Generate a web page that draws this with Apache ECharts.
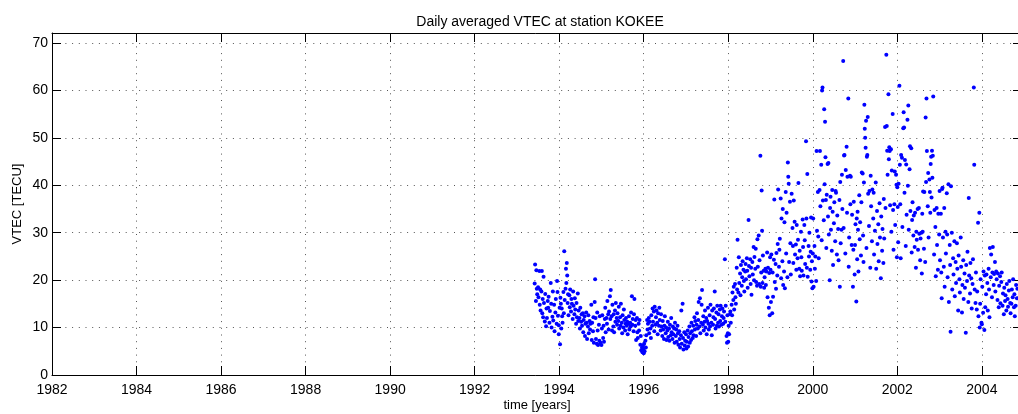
<!DOCTYPE html>
<html>
<head>
<meta charset="utf-8">
<title>Daily averaged VTEC at station KOKEE</title>
<script src="https://cdn.jsdelivr.net/npm/echarts@6/dist/echarts.min.js"></script>
<style>
  html, body { margin: 0; padding: 0; background: #fff; }
  #chart { width: 1018px; height: 414px; }
</style>
</head>
<body>
<div id="chart"></div>
<script>
// Daily averaged VTEC [TECU] at KOKEE, as [decimal year, value], grouped by year
const d1993 = [[1993.42,19.3],[1993.43,23.3],[1993.45,15.6],[1993.46,22.1],[1993.47,18.2],[1993.48,17.0],[1993.50,18.5],[1993.51,16.4],[1993.53,21.9],[1993.54,14.8],[1993.55,18.0],[1993.56,13.6],[1993.58,17.6],[1993.59,21.9],[1993.60,13.0],[1993.61,16.0],[1993.62,12.2],[1993.63,20.7],[1993.64,15.2],[1993.66,11.3],[1993.67,17.1],[1993.69,10.3],[1993.70,14.0],[1993.71,12.0],[1993.73,15.6],[1993.74,14.2],[1993.75,16.5],[1993.77,11.0],[1993.78,13.5],[1993.80,19.4],[1993.81,15.0],[1993.82,10.0],[1993.84,12.3],[1993.85,17.6],[1993.86,11.5],[1993.88,14.8],[1993.89,9.2],[1993.91,13.2],[1993.92,16.0],[1993.94,10.8],[1993.95,19.8],[1993.96,17.5],[1993.97,12.5],[1993.99,8.6],[1993.99,10.5]];
const d1994 = [[1994.01,14.2],[1994.02,6.5],[1994.03,16.3],[1994.04,15.0],[1994.05,9.8],[1994.06,14.0],[1994.07,12.4],[1994.08,11.0],[1994.10,17.5],[1994.11,13.0],[1994.12,26.1],[1994.13,15.8],[1994.15,18.2],[1994.16,22.4],[1994.17,19.4],[1994.18,23.6],[1994.19,21.0],[1994.20,15.2],[1994.21,17.0],[1994.22,12.6],[1994.24,16.8],[1994.25,14.3],[1994.26,18.0],[1994.28,13.4],[1994.29,16.0],[1994.30,15.0],[1994.32,11.8],[1994.33,17.6],[1994.34,14.6],[1994.36,12.8],[1994.37,16.2],[1994.38,13.8],[1994.40,10.8],[1994.41,15.2],[1994.42,12.2],[1994.44,17.2],[1994.45,11.4],[1994.46,13.6],[1994.48,12.0],[1994.49,9.8],[1994.50,14.2],[1994.52,11.2],[1994.53,12.8],[1994.54,10.4],[1994.56,13.0],[1994.57,9.0],[1994.58,11.6],[1994.60,12.4],[1994.61,8.2],[1994.62,10.8],[1994.64,13.2],[1994.65,11.0],[1994.66,7.6],[1994.68,10.2],[1994.69,12.6],[1994.70,8.8],[1994.72,11.4],[1994.73,9.6],[1994.74,10.8],[1994.76,14.8],[1994.77,7.4],[1994.78,11.0],[1994.80,9.2],[1994.81,12.2],[1994.82,6.8],[1994.84,15.4],[1994.85,20.2],[1994.86,12.0],[1994.87,7.6],[1994.89,6.6],[1994.90,13.2],[1994.91,9.4],[1994.92,6.3],[1994.94,10.6],[1994.95,7.2],[1994.96,12.4],[1994.98,6.8]];
const d1995 = [[1995.00,6.3],[1995.01,9.8],[1995.02,12.6],[1995.04,7.8],[1995.05,10.4],[1995.06,7.0],[1995.08,11.8],[1995.09,14.2],[1995.10,9.0],[1995.12,12.0],[1995.13,10.8],[1995.14,15.6],[1995.16,12.8],[1995.17,9.6],[1995.18,13.4],[1995.20,16.6],[1995.21,11.8],[1995.22,17.9],[1995.24,12.4],[1995.25,9.4],[1995.26,14.8],[1995.28,10.2],[1995.29,12.8],[1995.30,9.0],[1995.32,13.6],[1995.33,11.2],[1995.34,15.2],[1995.36,12.0],[1995.37,10.6],[1995.38,13.0],[1995.40,11.4],[1995.41,14.4],[1995.42,9.8],[1995.44,12.2],[1995.45,10.4],[1995.46,15.0],[1995.48,11.0],[1995.49,8.8],[1995.50,12.6],[1995.52,10.0],[1995.53,13.8],[1995.54,11.6],[1995.56,9.4],[1995.57,10.8],[1995.58,12.0],[1995.60,10.4],[1995.61,11.2],[1995.62,8.6],[1995.64,10.8],[1995.65,12.4],[1995.66,9.6],[1995.68,11.0],[1995.69,10.2],[1995.70,13.2],[1995.72,16.6],[1995.73,10.6],[1995.74,11.8],[1995.76,9.2],[1995.77,12.8],[1995.78,16.0],[1995.80,10.4],[1995.81,11.6],[1995.82,7.4],[1995.84,12.0],[1995.85,9.0],[1995.86,7.8],[1995.88,10.8],[1995.89,9.4],[1995.90,11.6],[1995.92,6.4],[1995.93,8.2],[1995.94,5.2],[1995.96,5.8],[1995.97,4.8],[1995.98,6.2],[1995.99,5.4]];
const d1996 = [[1996.00,4.6],[1996.01,6.6],[1996.02,5.0],[1996.04,7.2],[1996.05,5.8],[1996.06,8.4],[1996.08,11.6],[1996.09,9.6],[1996.10,10.8],[1996.12,12.0],[1996.13,8.8],[1996.14,11.2],[1996.16,9.8],[1996.17,7.8],[1996.18,12.6],[1996.20,10.4],[1996.21,14.0],[1996.22,11.2],[1996.24,13.4],[1996.25,9.2],[1996.26,14.4],[1996.28,10.6],[1996.29,12.2],[1996.30,13.6],[1996.32,11.0],[1996.33,8.6],[1996.34,13.0],[1996.36,10.4],[1996.37,14.2],[1996.38,11.6],[1996.40,9.4],[1996.41,12.8],[1996.42,10.2],[1996.44,8.2],[1996.45,11.4],[1996.46,9.6],[1996.48,7.6],[1996.49,10.4],[1996.50,12.4],[1996.52,8.8],[1996.53,10.0],[1996.54,7.4],[1996.56,9.4],[1996.57,11.2],[1996.58,8.0],[1996.60,9.8],[1996.61,7.2],[1996.62,10.6],[1996.64,8.4],[1996.65,12.0],[1996.66,9.0],[1996.68,7.6],[1996.69,10.2],[1996.70,8.6],[1996.72,9.8],[1996.73,6.8],[1996.74,11.0],[1996.76,8.2],[1996.77,9.6],[1996.78,7.0],[1996.80,10.4],[1996.81,8.8],[1996.82,6.4],[1996.84,9.2],[1996.85,7.6],[1996.86,5.8],[1996.88,8.4],[1996.89,13.6],[1996.90,6.6],[1996.92,15.0],[1996.93,7.8],[1996.94,5.4],[1996.96,9.0],[1996.97,6.2],[1996.98,7.2]];
const d1997 = [[1997.00,8.6],[1997.01,5.6],[1997.02,7.0],[1997.04,9.4],[1997.05,6.0],[1997.06,8.0],[1997.08,10.2],[1997.09,6.8],[1997.10,8.8],[1997.12,7.4],[1997.13,11.0],[1997.14,9.2],[1997.16,7.8],[1997.17,10.4],[1997.18,8.4],[1997.20,12.2],[1997.21,9.6],[1997.22,11.4],[1997.24,8.2],[1997.25,10.6],[1997.26,13.0],[1997.28,9.8],[1997.29,11.6],[1997.30,15.4],[1997.32,10.2],[1997.33,16.2],[1997.34,8.8],[1997.36,11.0],[1997.37,14.8],[1997.38,17.9],[1997.40,10.6],[1997.41,12.4],[1997.42,9.4],[1997.44,11.2],[1997.45,13.6],[1997.46,10.0],[1997.48,12.0],[1997.49,8.6],[1997.50,11.4],[1997.52,14.2],[1997.53,10.8],[1997.54,9.6],[1997.56,12.6],[1997.57,10.2],[1997.58,14.8],[1997.60,11.0],[1997.61,8.4],[1997.62,13.6],[1997.64,10.6],[1997.65,12.2],[1997.66,14.0],[1997.68,17.6],[1997.69,11.8],[1997.70,9.8],[1997.72,13.2],[1997.73,10.4],[1997.74,14.6],[1997.76,11.0],[1997.77,12.8],[1997.78,10.2],[1997.80,13.8],[1997.81,11.4],[1997.82,14.6],[1997.84,10.6],[1997.85,12.4],[1997.86,14.0],[1997.88,10.8],[1997.89,12.0],[1997.90,13.4],[1997.92,24.4],[1997.93,11.2],[1997.94,14.6],[1997.96,8.2],[1997.97,6.8],[1997.98,12.6],[1997.99,8.8]];
const d1998 = [[1998.00,7.0],[1998.01,10.4],[1998.02,8.6],[1998.04,12.8],[1998.05,13.4],[1998.06,11.0],[1998.08,14.8],[1998.09,12.6],[1998.10,17.4],[1998.12,15.8],[1998.13,18.6],[1998.14,13.8],[1998.16,19.2],[1998.17,16.4],[1998.18,15.0],[1998.20,22.6],[1998.21,18.0],[1998.22,28.5],[1998.24,17.4],[1998.25,24.8],[1998.26,19.4],[1998.28,21.4],[1998.29,16.8],[1998.30,23.2],[1998.32,18.8],[1998.33,20.6],[1998.34,24.0],[1998.36,22.2],[1998.37,19.8],[1998.38,17.6],[1998.40,21.8],[1998.41,23.4],[1998.42,20.2],[1998.44,24.6],[1998.45,22.0],[1998.46,18.4],[1998.48,32.7],[1998.49,23.0],[1998.50,20.8],[1998.52,24.4],[1998.53,19.2],[1998.54,22.6],[1998.55,16.9],[1998.57,23.8],[1998.58,21.2],[1998.60,27.0],[1998.61,20.0],[1998.62,24.9],[1998.64,22.4],[1998.65,26.6],[1998.66,19.6],[1998.68,18.8],[1998.69,28.6],[1998.70,22.8],[1998.72,29.4],[1998.73,19.2],[1998.74,24.2],[1998.76,46.2],[1998.77,18.6],[1998.78,21.6],[1998.79,38.9],[1998.80,30.4],[1998.81,19.4],[1998.82,25.2],[1998.84,22.0],[1998.85,18.4],[1998.86,20.6],[1998.88,22.4],[1998.89,19.0],[1998.90,21.8],[1998.92,25.8],[1998.93,16.4],[1998.94,22.6],[1998.96,14.2],[1998.97,21.5],[1998.98,12.6],[1998.99,24.8]];
const d1999 = [[1999.00,22.2],[1999.01,15.4],[1999.02,25.4],[1999.04,13.0],[1999.05,21.6],[1999.06,16.5],[1999.08,24.3],[1999.09,37.0],[1999.10,19.6],[1999.12,23.4],[1999.13,18.2],[1999.14,25.7],[1999.16,21.0],[1999.17,27.6],[1999.18,39.1],[1999.20,22.8],[1999.21,26.4],[1999.22,28.7],[1999.24,37.2],[1999.25,20.4],[1999.26,33.0],[1999.28,24.0],[1999.29,35.0],[1999.30,19.0],[1999.32,21.8],[1999.33,32.2],[1999.34,18.3],[1999.36,38.6],[1999.37,25.6],[1999.38,34.2],[1999.40,20.6],[1999.41,44.8],[1999.42,41.8],[1999.43,40.3],[1999.44,23.8],[1999.46,36.5],[1999.47,27.8],[1999.48,21.2],[1999.50,38.2],[1999.52,31.0],[1999.53,27.2],[1999.54,23.6],[1999.55,36.8],[1999.57,32.3],[1999.58,25.4],[1999.60,27.5],[1999.61,22.2],[1999.62,31.6],[1999.64,24.6],[1999.65,28.5],[1999.66,40.5],[1999.68,22.4],[1999.69,26.2],[1999.70,20.8],[1999.72,30.2],[1999.73,24.8],[1999.74,22.0],[1999.76,32.8],[1999.77,27.0],[1999.78,21.0],[1999.80,31.6],[1999.81,28.4],[1999.82,23.4],[1999.84,49.3],[1999.85,33.0],[1999.86,22.6],[1999.87,42.4],[1999.88,20.7],[1999.90,27.2],[1999.91,25.0],[1999.92,30.0],[1999.94,22.2],[1999.95,26.0],[1999.96,33.2],[1999.97,19.7],[1999.98,24.0],[1999.99,18.3]];
const d2000 = [[2000.00,25.6],[2000.01,33.0],[2000.02,18.6],[2000.04,27.2],[2000.05,22.4],[2000.06,25.0],[2000.08,19.8],[2000.09,47.2],[2000.10,30.4],[2000.12,38.6],[2000.13,29.2],[2000.14,24.6],[2000.16,39.0],[2000.17,47.2],[2000.18,35.6],[2000.20,44.3],[2000.21,28.4],[2000.22,60.0],[2000.23,60.6],[2000.24,36.8],[2000.26,32.6],[2000.27,56.0],[2000.28,40.2],[2000.29,53.4],[2000.30,45.9],[2000.31,36.9],[2000.32,26.8],[2000.33,38.0],[2000.35,44.5],[2000.36,33.4],[2000.37,44.7],[2000.38,29.6],[2000.40,20.0],[2000.41,35.2],[2000.42,37.6],[2000.43,30.6],[2000.45,26.2],[2000.46,39.0],[2000.47,34.4],[2000.48,23.2],[2000.50,32.0],[2000.51,36.4],[2000.53,28.2],[2000.54,38.8],[2000.55,38.4],[2000.57,25.4],[2000.58,33.6],[2000.60,30.8],[2000.61,24.2],[2000.63,36.9],[2000.64,18.6],[2000.65,40.7],[2000.66,27.8],[2000.68,30.6],[2000.69,42.2],[2000.70,35.0],[2000.72,66.2],[2000.73,31.0],[2000.74,46.3],[2000.75,46.4],[2000.77,25.6],[2000.78,43.2],[2000.80,48.1],[2000.81,34.2],[2000.82,41.8],[2000.84,58.3],[2000.85,22.8],[2000.86,29.0],[2000.88,42.0],[2000.89,36.0],[2000.90,41.8],[2000.92,27.4],[2000.93,33.8],[2000.95,18.6],[2000.96,26.4],[2000.97,36.5],[2000.99,21.2]];
const d2001 = [[2001.00,27.4],[2001.01,31.8],[2001.03,15.5],[2001.04,33.0],[2001.05,24.4],[2001.06,34.4],[2001.07,30.6],[2001.08,21.8],[2001.10,37.9],[2001.11,28.6],[2001.12,32.2],[2001.14,25.2],[2001.15,36.4],[2001.16,42.7],[2001.18,42.5],[2001.19,29.4],[2001.20,23.8],[2001.21,40.6],[2001.22,57.0],[2001.23,51.9],[2001.24,50.0],[2001.25,47.9],[2001.26,53.6],[2001.27,26.8],[2001.28,46.0],[2001.29,46.4],[2001.30,54.4],[2001.31,38.2],[2001.33,31.4],[2001.34,38.8],[2001.36,22.6],[2001.37,42.0],[2001.38,35.6],[2001.40,28.2],[2001.41,39.1],[2001.43,33.0],[2001.44,38.4],[2001.45,25.4],[2001.47,30.4],[2001.49,40.6],[2001.50,22.4],[2001.52,34.6],[2001.53,27.6],[2001.55,31.8],[2001.56,24.0],[2001.58,36.2],[2001.59,29.0],[2001.61,20.4],[2001.62,33.4],[2001.64,26.2],[2001.65,30.8],[2001.67,23.6],[2001.68,37.1],[2001.69,28.8],[2001.71,52.3],[2001.72,35.2],[2001.74,67.5],[2001.75,52.5],[2001.76,47.3],[2001.77,42.2],[2001.79,59.2],[2001.80,45.5],[2001.81,48.0],[2001.82,47.2],[2001.83,35.8],[2001.85,47.6],[2001.86,30.2],[2001.87,43.1],[2001.89,55.0],[2001.90,34.8],[2001.91,26.4],[2001.93,36.0],[2001.94,42.9],[2001.95,31.6],[2001.97,42.2],[2001.98,40.1],[2001.99,24.8]];
const d2002 = [[2002.00,39.6],[2002.01,35.4],[2002.02,28.0],[2002.03,40.3],[2002.05,61.0],[2002.06,44.3],[2002.07,36.0],[2002.08,24.6],[2002.09,46.4],[2002.11,45.8],[2002.12,31.2],[2002.14,52.0],[2002.15,55.4],[2002.16,52.2],[2002.17,38.4],[2002.18,45.3],[2002.20,27.2],[2002.21,44.4],[2002.22,33.8],[2002.24,53.8],[2002.25,39.9],[2002.26,56.8],[2002.27,30.6],[2002.29,43.4],[2002.30,48.2],[2002.31,34.6],[2002.33,47.8],[2002.34,25.8],[2002.35,32.7],[2002.36,36.4],[2002.38,29.4],[2002.39,33.6],[2002.41,27.0],[2002.42,34.2],[2002.44,22.6],[2002.45,30.2],[2002.46,28.5],[2002.48,35.0],[2002.49,26.4],[2002.51,35.2],[2002.52,29.8],[2002.54,24.2],[2002.55,28.8],[2002.57,30.0],[2002.58,21.4],[2002.59,34.0],[2002.60,30.2],[2002.61,38.7],[2002.63,26.6],[2002.64,38.6],[2002.66,23.8],[2002.67,54.3],[2002.68,40.7],[2002.69,58.3],[2002.70,47.2],[2002.72,35.6],[2002.73,42.6],[2002.74,29.0],[2002.76,41.2],[2002.77,38.6],[2002.78,34.2],[2002.79,44.5],[2002.80,46.0],[2002.81,37.4],[2002.82,47.3],[2002.83,41.6],[2002.84,46.2],[2002.85,58.7],[2002.87,25.4],[2002.88,34.8],[2002.90,31.2],[2002.91,20.8],[2002.93,35.2],[2002.94,27.4],[2002.96,22.2],[2002.97,34.0],[2002.99,29.6]];
const d2003 = [[2003.00,38.8],[2003.01,24.2],[2003.03,34.0],[2003.04,21.6],[2003.05,16.2],[2003.06,39.2],[2003.07,39.5],[2003.08,29.0],[2003.10,22.8],[2003.11,35.2],[2003.12,18.6],[2003.14,30.2],[2003.15,25.6],[2003.17,38.3],[2003.18,29.6],[2003.19,20.6],[2003.21,40.2],[2003.22,15.4],[2003.24,27.4],[2003.25,23.2],[2003.26,9.1],[2003.27,39.8],[2003.29,30.0],[2003.30,18.0],[2003.32,24.6],[2003.33,21.2],[2003.35,28.2],[2003.36,16.6],[2003.38,23.8],[2003.39,19.4],[2003.41,27.8],[2003.42,22.4],[2003.44,13.6],[2003.45,25.2],[2003.47,20.2],[2003.48,17.4],[2003.50,29.0],[2003.51,22.8],[2003.53,13.2],[2003.54,19.0],[2003.56,24.2],[2003.57,16.0],[2003.59,21.4],[2003.60,18.4],[2003.62,8.9],[2003.63,23.2],[2003.65,19.8],[2003.66,26.0],[2003.68,15.4],[2003.69,37.3],[2003.70,21.0],[2003.72,17.2],[2003.73,23.6],[2003.75,20.4],[2003.76,14.0],[2003.78,19.2],[2003.79,24.4],[2003.81,60.6],[2003.82,44.3],[2003.83,18.0],[2003.85,15.2],[2003.86,21.6],[2003.88,13.8],[2003.89,17.6],[2003.91,32.1],[2003.92,12.4],[2003.94,34.2],[2003.95,10.0],[2003.96,15.0],[2003.97,20.2],[2003.99,11.0]];
const d2004 = [[2004.00,10.7],[2004.01,18.6],[2004.03,13.1],[2004.04,21.8],[2004.06,9.5],[2004.07,21.0],[2004.08,14.3],[2004.10,17.0],[2004.11,21.2],[2004.13,19.4],[2004.14,13.6],[2004.16,22.4],[2004.17,18.0],[2004.18,12.2],[2004.19,26.8],[2004.21,20.6],[2004.22,25.4],[2004.24,16.4],[2004.25,21.6],[2004.26,27.0],[2004.28,19.0],[2004.29,21.3],[2004.31,23.8],[2004.32,17.6],[2004.34,21.8],[2004.35,20.2],[2004.37,15.8],[2004.38,21.4],[2004.40,14.3],[2004.41,18.8],[2004.43,20.8],[2004.44,15.1],[2004.46,19.6],[2004.47,21.6],[2004.49,14.6],[2004.50,17.2],[2004.52,12.8],[2004.53,18.4],[2004.55,15.6],[2004.56,16.8],[2004.58,13.6],[2004.59,19.2],[2004.61,16.0],[2004.62,14.4],[2004.64,17.8],[2004.65,19.8],[2004.67,15.2],[2004.68,13.0],[2004.70,15.0],[2004.71,18.0],[2004.73,16.4],[2004.74,20.2],[2004.76,14.3],[2004.77,17.0],[2004.78,12.4],[2004.80,14.6],[2004.81,19.0],[2004.83,16.2],[2004.84,18.2]];

// Axis ranges and tick steps
const xRange = [1982, 2004.95];
const xStep = 2;
const yRange = [0, 72.1];
const yStep = 10;

const vtec = [].concat(d1993, d1994, d1995, d1996, d1997, d1998, d1999, d2000, d2001, d2002, d2003, d2004);

const FONT = 'Liberation Sans, Arial, Helvetica, sans-serif';
const gridLine = { show: true, lineStyle: { color: '#555', width: 1, type: [1, 5.7] } };
const frameLine = { show: true, onZero: false, lineStyle: { color: '#000', width: 1 } };
const innerTick = { show: true, inside: true, length: 9, lineStyle: { color: '#000', width: 1 } };

const chart = echarts.init(document.getElementById('chart'), null, { renderer: 'canvas' });
chart.setOption({
  animation: false,
  backgroundColor: '#fff',
  title: {
    text: 'Daily averaged VTEC at station KOKEE',
    left: 535, top: 10, textAlign: 'center',
    textStyle: { fontFamily: FONT, fontSize: 14, fontWeight: 'normal', color: '#000' }
  },
  // the frame runs a little past the right edge of the page
  grid: { left: 52, top: 33, width: 970, height: 342, containLabel: false, outerBoundsMode: 'none' },
  xAxis: [{
    type: 'value', position: 'bottom',
    min: xRange[0], max: xRange[1], interval: xStep,
    name: 'time [years]', nameLocation: 'middle', nameGap: 24, nameMoveOverlap: false,
    nameTextStyle: { fontFamily: FONT, fontSize: 13, color: '#000' },
    axisLine: frameLine, axisTick: innerTick, splitLine: gridLine,
    axisLabel: {
      fontFamily: FONT, fontSize: 14, color: '#000', margin: 8,
      formatter: v => (v % xStep === 0 ? String(v) : '')
    }
  }, {
    type: 'value', position: 'top',
    min: xRange[0], max: xRange[1], interval: xStep,
    axisLine: frameLine, axisTick: innerTick,
    axisLabel: { show: false }, splitLine: { show: false }
  }],
  yAxis: [{
    type: 'value', position: 'left',
    min: yRange[0], max: yRange[1], interval: yStep,
    name: 'VTEC [TECU]', nameLocation: 'middle', nameGap: 28, nameMoveOverlap: false,
    nameTextStyle: { fontFamily: FONT, fontSize: 13, color: '#000' },
    axisLine: frameLine, axisTick: innerTick, splitLine: gridLine,
    axisLabel: {
      fontFamily: FONT, fontSize: 14, color: '#000', margin: 4,
      formatter: v => (v % yStep === 0 ? String(v) : '')
    }
  }, {
    type: 'value', position: 'right',
    min: yRange[0], max: yRange[1], interval: yStep,
    axisLine: frameLine, axisTick: innerTick,
    axisLabel: { show: false }, splitLine: { show: false }
  }],
  series: [{
    type: 'scatter',
    xAxisIndex: 0, yAxisIndex: 0,
    data: vtec,
    symbol: 'circle',
    symbolSize: 4,
    itemStyle: { color: '#0000ff', opacity: 1 },
    silent: true
  }]
});
</script>
</body>
</html>
